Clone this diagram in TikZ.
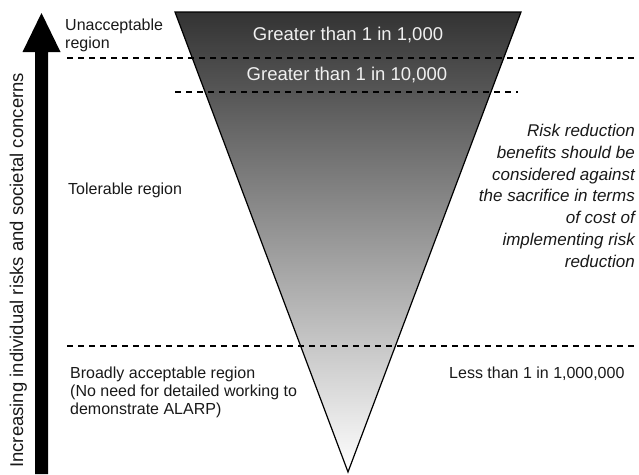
\documentclass[tikz,border=0pt]{standalone}
\usepackage{fontspec}
\setmainfont{Liberation Sans}
\begin{document}
\begin{tikzpicture}[x=1pt,y=-1pt,
  lbl/.style={inner sep=0pt,font=\fontsize{16}{18}\selectfont,text=black!90},
  band/.style={inner sep=0pt,font=\fontsize{18.5}{21}\selectfont,text=white!94!black},
  dashline/.style={draw=black,line width=1.2pt,dash pattern=on 6pt off 5pt},
  tri/.style={draw=black,line width=1.2pt,line join=miter},
  riskarrow/.style={fill=black,draw=none}
]
\useasboundingbox (0,0) rectangle (639,474);

% triangle
\coordinate (tl) at (175,12);
\coordinate (tr) at (521,12);
\coordinate (ap) at (348,472);
\shade[top color=black!80,bottom color=white] (tl) -- (tr) -- (ap) -- cycle;

% dashed lines
\coordinate (d1l) at (67,58);  \coordinate (d1r) at (634,58);
\coordinate (d2l) at (175,92); \coordinate (d2r) at (518,92);
\coordinate (d3l) at (67,346); \coordinate (d3r) at (634,346);
\draw[dashline] (d1l) -- (d1r);
\draw[dashline] (d2l) -- (d2r);
\draw[dashline] (d3l) -- (d3r);

\draw[tri] (tl) -- (tr) -- (ap) -- cycle;

% big arrow
\fill[riskarrow] (35,474) -- (35,52) -- (22.5,52) -- (41.5,13) -- (60.5,52) -- (48,52) -- (48,474) -- cycle;

% vertical label
\node[lbl,font=\fontsize{18.5}{21}\selectfont,rotate=90,anchor=base west] (axis) at (23,468)
  {Increasing individual risks and societal concerns};

% band texts
\node[band,anchor=base] (g1) at (348,40) {Greater than 1 in 1,000};
\node[band,anchor=base] (g2) at (347,80) {Greater than 1 in 10,000};

% region labels (base anchor = last line of multi-line nodes)
\node[lbl,anchor=base west,align=left] (unacc) at (65,48) {Unacceptable\\region};
\node[lbl,anchor=base west] (toler) at (68,194) {Tolerable region};
\node[lbl,anchor=base west,align=left] (broad) at (70,414)
  {Broadly acceptable region\\(No need for detailed working to\\demonstrate ALARP)};
\node[lbl,anchor=base west] (less) at (449,378) {Less than 1 in 1,000,000};

\node[lbl,anchor=base east,align=right,font=\fontsize{17}{21.7}\selectfont\itshape] (risk) at (635,267)
  {Risk reduction\\benefits should be\\considered against\\the sacrifice in terms\\of cost of\\implementing risk\\reduction};
\end{tikzpicture}
\end{document}
